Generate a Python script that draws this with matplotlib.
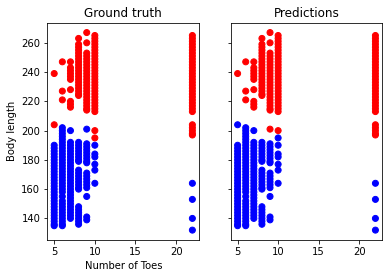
import numpy as np
from matplotlib import pyplot as plt

# body length per number of toes, ground truth class "red" (long) and "blue" (short)
red_x5 = [239, 204]
red_x6 = [247, 227, 221]
red_x7 = [247, 243, 241, 239, 237, 235, 228, 220, 218, 216]
red_x8 = [263, 259, 257, 255, 253, 251, 249, 247, 245, 243, 241, 239, 237, 235,
          233, 231, 229, 227, 225, 224]
red_x9 = [267, 260, 253, 251, 249, 247, 245, 243, 241, 239, 237, 235, 233, 231,
          229, 227, 225, 223, 221, 219, 217, 215, 214]
red_x10 = [265, 263, 261, 259, 257, 255, 253, 251, 249, 247, 245, 243, 241, 239,
           237, 235, 233, 231, 229, 227, 225, 223, 221, 219, 217, 215, 213, 200, 195]
red_x22 = [265, 263, 261, 259, 257, 255, 253, 251, 249, 247, 245, 243, 241, 239,
           237, 235, 233, 231, 229, 227, 225, 223, 221, 219, 217, 215, 213,
           204, 202, 200, 198, 197]

blue_x5 = [190, 188, 186, 184, 182, 180, 178, 176, 174, 172, 170, 168, 166, 164,
           162, 160, 158, 156, 154, 152, 150, 148, 146, 144, 142, 140, 138, 136, 135]
blue_x6 = [202, 200, 198, 196, 194, 192, 190, 188, 186, 184, 182, 180, 178, 176,
           174, 172, 170, 168, 166, 164, 162, 160, 158, 155, 152, 150, 148, 146,
           144, 142, 140, 138, 136, 135]
blue_x7 = [200, 192, 190, 188, 186, 184, 182, 180, 178, 176, 174, 172, 170, 168,
           166, 164, 162, 160, 158, 156, 154, 152, 150, 148, 146, 144, 142, 140]
blue_x8 = [192, 190, 188, 186, 184, 182, 180, 179, 173, 171, 169, 167, 165, 163,
           161, 160, 148, 146, 144, 142, 140, 138, 136]
blue_x9 = [201, 191, 189, 187, 185, 183, 181, 179, 178, 171, 169, 167, 165, 163,
           161, 155, 141, 139]
blue_x10 = [190, 184, 182, 177, 173, 164]
blue_x22 = [164, 153, 140, 132]

# points the model got wrong (toes, body length)
wrong = [(5, 204), (9, 201), (10, 195)]

red = {5: red_x5, 6: red_x6, 7: red_x7, 8: red_x8, 9: red_x9, 10: red_x10, 22: red_x22}
blue = {5: blue_x5, 6: blue_x6, 7: blue_x7, 8: blue_x8, 9: blue_x9, 10: blue_x10, 22: blue_x22}

toes, length, truth = [], [], []
for groups, label in [(red, 1), (blue, 0)]:
    for t, vals in groups.items():
        for v in vals:
            toes.append(t)
            length.append(v)
            truth.append(label)
toes = np.array(toes)
length = np.array(length)
truth = np.array(truth)

pred = truth.copy()
for t, v in wrong:
    idx = np.where((toes == t) & (length == v))[0]
    pred[idx] = 1 - pred[idx]

fig = plt.figure(figsize=(389 / 72, 278 / 72), dpi=72)
ax1 = fig.add_axes([0.1216, 0.1367, 0.3907, 0.7817])
ax2 = fig.add_axes([0.5931, 0.1367, 0.3897, 0.7817], sharey=ax1)

ax1.scatter(toes, length, c=np.where(truth == 1, 'r', 'b'))
ax1.set_title('Ground truth')
ax1.set_xlabel('Number of Toes')
ax1.set_ylabel('Body length')

ax2.scatter(toes, length, c=np.where(pred == 1, 'r', 'b'))
ax2.set_title('Predictions')
ax2.tick_params(labelleft=False)

plt.savefig('out.png', dpi=72)
